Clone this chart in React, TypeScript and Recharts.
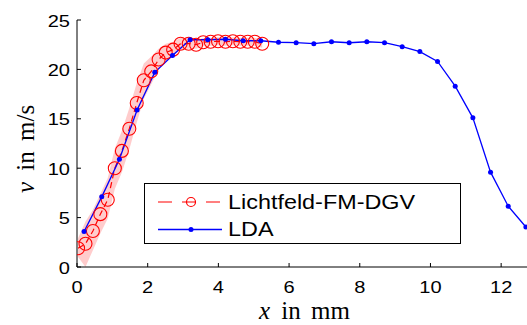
import { Area, ComposedChart, Legend, Line, XAxis, YAxis } from "recharts";

// Lichtfeld-FM-DGV profile (red circles) with its uncertainty band
const dgvX = [0.03, 0.24, 0.45, 0.66, 0.87, 1.07, 1.27, 1.48, 1.69, 1.89, 2.1, 2.31, 2.51, 2.72, 2.93, 3.16, 3.37, 3.57, 3.78, 3.99, 4.2, 4.41, 4.62, 4.83, 5.03, 5.24];
const dgvV = [1.9, 2.35, 3.65, 5.35, 6.8, 10.0, 11.75, 14.0, 16.6, 18.9, 19.8, 21.0, 21.7, 22.0, 22.6, 22.6, 22.5, 22.75, 22.8, 22.85, 22.8, 22.85, 22.8, 22.8, 22.8, 22.6];
const dgvLow = [1.0, 0.0, 1.7, 3.4, 4.9, 7.9, 9.6, 11.9, 14.6, 17.0, 18.5, 20.0, 20.9, 21.4, 22.0, 22.1, 22.1, 22.35, 22.4, 22.45, 22.4, 22.45, 22.4, 22.4, 22.4, 22.2];
const dgvHigh = [2.9, 4.6, 5.8, 7.4, 9.0, 12.0, 13.8, 16.1, 18.6, 20.6, 21.3, 22.1, 22.6, 22.8, 23.2, 23.2, 23.0, 23.15, 23.2, 23.25, 23.2, 23.25, 23.2, 23.2, 23.2, 23.0];

// LDA reference measurement (blue)
const ldaX = [0.2, 0.7, 1.2, 1.7, 2.2, 2.7, 3.2, 3.7, 4.2, 4.7, 5.2, 5.7, 6.2, 6.7, 7.2, 7.7, 8.2, 8.7, 9.2, 9.7, 10.2, 10.7, 11.2, 11.7, 12.2, 12.7];
const ldaV = [3.6, 7.1, 10.9, 15.9, 19.7, 21.4, 23.0, 23.0, 23.05, 22.9, 22.9, 22.75, 22.7, 22.6, 22.8, 22.7, 22.8, 22.7, 22.3, 21.8, 20.8, 18.3, 15.1, 9.6, 6.15, 4.05];

const xTicks = [0, 2, 4, 6, 8, 10, 12];
const yTicks = [0, 5, 10, 15, 20, 25];

const dgvData = dgvX.map((x, i) => ({ x, v: dgvV[i], band: [dgvLow[i], dgvHigh[i]] }));
const ldaData = ldaX.map((x, i) => ({ x, v: ldaV[i] }));

const SANS = "'Liberation Sans', Arial, sans-serif";
const SERIF = "'Liberation Serif', 'Times New Roman', serif";

const XTick = ({ x, y, payload }: any) => (
  <g>
    <line x1={x} y1={y} x2={x} y2={y - 4} stroke="#000" />
    <text
      transform={`translate(${x},${y + 26}) scale(1.18,1)`}
      textAnchor="middle"
      fontFamily={SANS}
      fontSize={17}
      fill="#000"
    >
      {payload.value}
    </text>
  </g>
);

const TopTick = ({ x, y }: any) => <line x1={x} y1={y} x2={x} y2={y + 4} stroke="#000" />;

const YTick = ({ x, y, payload }: any) => (
  <g>
    <line x1={x} y1={y} x2={x + 4} y2={y} stroke="#000" />
    <text
      transform={`translate(${x - 7},${y + 6.5}) scale(1.18,1)`}
      textAnchor="end"
      fontFamily={SANS}
      fontSize={17}
      fill="#000"
    >
      {payload.value}
    </text>
  </g>
);

const XTitle = () => (
  <text x={259} y={319} fontFamily={SERIF} fontSize={25} fill="#000">
    <tspan fontStyle="italic">x</tspan>
    <tspan dx={5}> in</tspan>
    <tspan dx={4}> mm</tspan>
  </text>
);

const YTitle = () => (
  <text x={34} y={193} transform="rotate(-90, 34, 193)" fontFamily={SERIF} fontSize={25} fill="#000">
    <tspan fontStyle="italic">v</tspan>
    <tspan dx={5}> in</tspan>
    <tspan dx={4}> m/s</tspan>
  </text>
);

const LegendBox = () => (
  <svg width={317} height={61} style={{ display: "block" }}>
    <rect x={0.5} y={0.5} width={316} height={60} fill="#fff" stroke="#000" />
    <line x1={14} y1={19} x2={78} y2={19} stroke="#ff0000" strokeWidth={1.2} strokeDasharray="14 10" />
    <circle cx={47} cy={19} r={4.5} fill="none" stroke="#ff0000" strokeWidth={1.2} />
    <line x1={14} y1={46.5} x2={78} y2={46.5} stroke="#0000ff" strokeWidth={1.3} />
    <circle cx={47} cy={46.5} r={2.5} fill="#0000ff" />
    <text transform="translate(84,25.5) scale(1.17,1)" fontFamily={SANS} fontSize={20} fill="#000">
      Lichtfeld-FM-DGV
    </text>
    <text transform="translate(84,53) scale(1.17,1)" fontFamily={SANS} fontSize={20} fill="#000">
      LDA
    </text>
  </svg>
);

export default function App() {
  return (
    <div
      style={{
        position: "fixed",
        left: 0,
        top: 0,
        width: 527,
        height: 325,
        overflow: "hidden",
        background: "#fff",
      }}
    >
      <ComposedChart width={560} height={325} margin={{ top: 20, right: 23.5, bottom: 0, left: 0 }}>
        <XAxis
          dataKey="x"
          type="number"
          domain={[0, 13]}
          ticks={xTicks}
          allowDataOverflow
          height={58}
          axisLine={{ stroke: "#000" }}
          tickLine={false}
          tickSize={0}
          tickMargin={0}
          tick={<XTick />}
          label={<XTitle />}
        />
        <XAxis
          xAxisId="top"
          orientation="top"
          dataKey="x"
          type="number"
          domain={[0, 13]}
          ticks={xTicks}
          allowDataOverflow
          height={0}
          axisLine={{ stroke: "#000" }}
          tickLine={false}
          tickSize={0}
          tickMargin={0}
          tick={<TopTick />}
        />
        <YAxis
          type="number"
          domain={[0, 25]}
          ticks={yTicks}
          width={77}
          axisLine={{ stroke: "#000" }}
          tickLine={false}
          tickSize={0}
          tickMargin={0}
          tick={<YTick />}
          label={<YTitle />}
        />
        <Area
          data={dgvData}
          dataKey="band"
          type="linear"
          stroke="none"
          fill="#ff0000"
          fillOpacity={0.2}
          isAnimationActive={false}
        />
        <Line
          data={dgvData}
          dataKey="v"
          type="linear"
          stroke="#ff0000"
          strokeWidth={1.2}
          strokeDasharray="6 4"
          dot={{ r: 6.5, fill: "none", stroke: "#ff0000", strokeWidth: 1.1, strokeDasharray: "none" }}
          isAnimationActive={false}
        />
        <Line
          data={ldaData}
          dataKey="v"
          type="linear"
          stroke="#0000ff"
          strokeWidth={1.3}
          dot={{ r: 2.5, fill: "#0000ff", stroke: "none" }}
          isAnimationActive={false}
        />
        <Legend
          layout="vertical"
          align="center"
          verticalAlign="middle"
          content={() => <LegendBox />}
          wrapperStyle={{ left: 144, top: 183, width: 317, height: 61 }}
        />
      </ComposedChart>
    </div>
  );
}
